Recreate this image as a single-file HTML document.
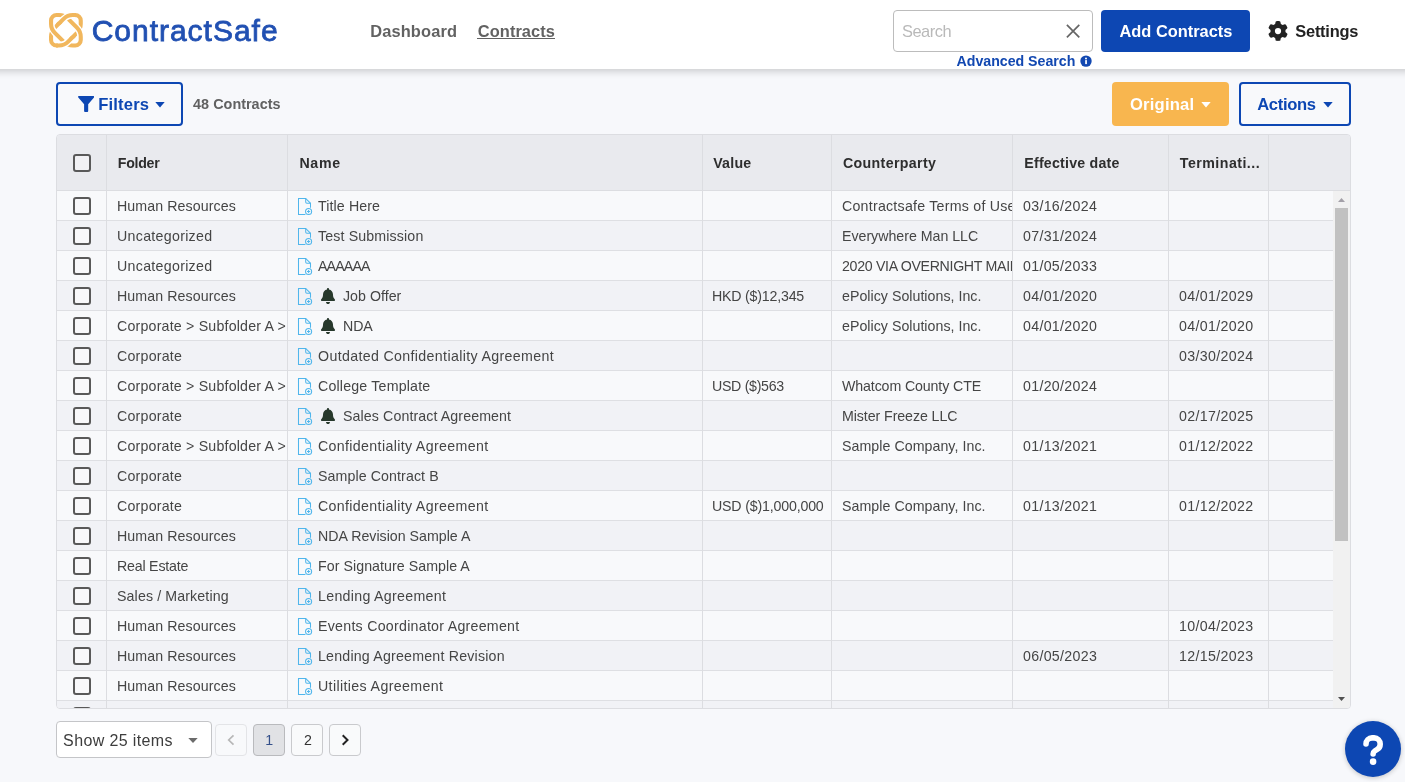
<!DOCTYPE html>
<html><head><meta charset="utf-8"><title>ContractSafe</title><style>
*{box-sizing:border-box;margin:0;padding:0}
html,body{width:1405px;height:782px;overflow:hidden;background:#f7f8fb}
#app{position:absolute;left:0;top:0;width:1405px;height:782px;overflow:hidden;background:#f7f8fb;font-family:"Liberation Sans", sans-serif;color:#333;will-change:transform}
.t{position:absolute;white-space:pre;line-height:60px;height:60px}
#hdr{position:absolute;left:0;top:0;width:1405px;height:69px;background:#fff}
#hsh{position:absolute;left:-30px;top:0;width:1465px;height:69px;box-shadow:0 2px 8px rgba(0,0,0,.2)}
.btn{position:absolute;border-radius:4px}
#grid{position:absolute;left:56px;top:134px;width:1295px;height:575px;border:1px solid #dcdde1;border-radius:4px;overflow:hidden;background:#f8f9fb}
#gh{position:absolute;left:0;top:0;width:1293px;height:56px;background:#e9eaee;border-bottom:1px solid #dcdde1}
.vl{position:absolute;top:0;width:1px;height:575px;background:#dcdde1}
.row{position:absolute;left:0;width:1277px;height:30px;border-bottom:1px solid #dedfe3;overflow:hidden}
.row.alt{background:#f1f2f6}
.c{position:absolute;top:0;height:29px;overflow:hidden}
.cb{position:absolute;left:16px;width:18px;height:18px;border:2px solid #595959;border-radius:3px;background:#f8f8fa}
.doc{position:absolute;left:240px;top:6px}
.bell{position:absolute;left:264px;top:7px}
.pg{position:absolute;top:724px;width:32px;height:32px;border:1px solid #c9cacd;border-radius:4px;background:#f9fafb}
</style></head><body><div id="app">
<div id="hsh"></div><div id="hdr">
<svg style="position:absolute;left:48.0px;top:12.3px" width="35.8" height="36.5" viewBox="-1 -1 35.8 36.5"><defs>
<clipPath id="ctb"><rect x="9" y="-1" width="16" height="10.7"/><rect x="9" y="24.7" width="16" height="11"/></clipPath>
<clipPath id="ctb2"><rect x="7" y="-1" width="20" height="12.7"/><rect x="7" y="22.7" width="20" height="13"/></clipPath>
<clipPath id="clr"><rect x="-1" y="8.7" width="11" height="17"/><rect x="24" y="8.7" width="11" height="17"/></clipPath></defs>
<g fill="none" stroke-width="4.1" stroke="#f1b75d">
<path d="M31.75 10.67A13 13 0 0 1 27.94 19.86L19.16 28.64A13 13 0 0 1 9.97 32.45L7.55 32.45A5.5 5.5 0 0 1 2.05 26.95L2.05 23.83A13 13 0 0 1 5.86 14.64L14.64 5.86A13 13 0 0 1 23.83 2.05L26.25 2.05A5.5 5.5 0 0 1 31.75 7.55Z"/>
<g clip-path="url(#clr)"><path d="M2.05 7.55A5.5 5.5 0 0 1 7.55 2.05L9.97 2.05A13 13 0 0 1 19.16 5.86L27.94 14.64A13 13 0 0 1 31.75 23.83L31.75 26.95A5.5 5.5 0 0 1 26.25 32.45L23.83 32.45A13 13 0 0 1 14.64 28.64L5.86 19.86A13 13 0 0 1 2.05 10.67Z" stroke="#fff" stroke-width="6.699999999999999"/></g>
<path d="M2.05 7.55A5.5 5.5 0 0 1 7.55 2.05L9.97 2.05A13 13 0 0 1 19.16 5.86L27.94 14.64A13 13 0 0 1 31.75 23.83L31.75 26.95A5.5 5.5 0 0 1 26.25 32.45L23.83 32.45A13 13 0 0 1 14.64 28.64L5.86 19.86A13 13 0 0 1 2.05 10.67Z"/>
<g clip-path="url(#ctb)"><path d="M31.75 10.67A13 13 0 0 1 27.94 19.86L19.16 28.64A13 13 0 0 1 9.97 32.45L7.55 32.45A5.5 5.5 0 0 1 2.05 26.95L2.05 23.83A13 13 0 0 1 5.86 14.64L14.64 5.86A13 13 0 0 1 23.83 2.05L26.25 2.05A5.5 5.5 0 0 1 31.75 7.55Z" stroke="#fff" stroke-width="6.699999999999999"/></g><g clip-path="url(#ctb2)"><path d="M31.75 10.67A13 13 0 0 1 27.94 19.86L19.16 28.64A13 13 0 0 1 9.97 32.45L7.55 32.45A5.5 5.5 0 0 1 2.05 26.95L2.05 23.83A13 13 0 0 1 5.86 14.64L14.64 5.86A13 13 0 0 1 23.83 2.05L26.25 2.05A5.5 5.5 0 0 1 31.75 7.55Z"/></g>
</g></svg>
<div class="t" style="left:91.70px;top:1.20px;font-size:30px;color:#2150b2;letter-spacing:0.982px;-webkit-text-stroke:0.8px #2150b2;">ContractSafe</div>
<div class="t" style="left:370.20px;top:0.80px;font-size:16.4px;font-weight:700;color:#626262;letter-spacing:0.149px;">Dashboard</div>
<div class="t" style="left:477.80px;top:0.80px;font-size:16.4px;font-weight:700;color:#626262;letter-spacing:0.075px;">Contracts</div>
<div style="position:absolute;left:477px;top:38px;width:78px;height:1px;background:#626262"></div>
<div class="btn" style="left:893px;top:10px;width:200px;height:42px;border:1px solid #bcbcbc;background:#fff"></div>
<div class="t" style="left:902.00px;top:0.60px;font-size:16.4px;color:#b9b9b9;letter-spacing:-0.48px;">Search</div>
<svg style="position:absolute;left:1065px;top:23px" width="16" height="16" viewBox="0 0 16 16"><path d="M1.9 1.9l12.4 12.4M14.300 1.900l-12.400 12.400" stroke="#666" stroke-width="1.7" fill="none"/></svg>
<div class="btn" style="left:1101px;top:10px;width:149px;height:42px;background:#0d47b3"></div>
<div class="t" style="left:1119.50px;top:1.10px;font-size:16.4px;font-weight:700;color:#fff;">Add Contracts</div>
<svg width="20" height="20" viewBox="0 0 512 512" style="position:absolute;left:1268px;top:21px"><path fill="#222" d="M495.900 166.600c3.200 8.700 .5 18.400-6.400 24.600l-43.300 39.400c1.100 8.300 1.700 16.800 1.700 25.400s-.6 17.100-1.700 25.400l43.300 39.400c6.900 6.200 9.600 15.900 6.400 24.600c-4.400 11.900-9.700 23.300-15.800 34.300l-4.700 8.100c-6.600 11-14 21.400-22.100 31.200c-5.900 7.200-15.700 9.600-24.500 6.800l-55.700-17.700c-13.400 10.300-28.200 18.900-44 25.400l-12.500 57.100c-2 9.100-9 16.300-18.200 17.800c-13.800 2.300-28 3.500-42.500 3.500s-28.700-1.200-42.500-3.500c-9.200-1.500-16.200-8.700-18.200-17.800l-12.500-57.100c-15.800-6.500-30.600-15.100-44-25.400L83.100 425.900c-8.800 2.800-18.600 .3-24.500-6.800c-8.100-9.800-15.500-20.200-22.100-31.200l-4.700-8.100c-6.100-11-11.400-22.400-15.800-34.300c-3.200-8.700-.5-18.400 6.400-24.600l43.300-39.400C64.600 273.100 64 264.600 64 256s.6-17.100 1.700-25.400L22.400 191.200c-6.900-6.200-9.600-15.900-6.400-24.600c4.400-11.900 9.700-23.300 15.800-34.300l4.700-8.100c6.600-11 14-21.400 22.100-31.200c5.900-7.200 15.700-9.600 24.500-6.800l55.700 17.700c13.400-10.300 28.200-18.900 44-25.400l12.500-57.100c2-9.100 9-16.300 18.200-17.800C227.300 1.200 241.500 0 256 0s28.700 1.200 42.500 3.500c9.200 1.500 16.200 8.700 18.200 17.800l12.500 57.100c15.800 6.500 30.600 15.100 44 25.400l55.700-17.700c8.800-2.800 18.600-.3 24.500 6.800c8.100 9.800 15.500 20.200 22.100 31.200l4.700 8.100c6.100 11 11.400 22.400 15.800 34.300zM256 336a80 80 0 1 0 0-160 80 80 0 1 0 0 160z"/></svg>
<div class="t" style="left:1295.30px;top:1.10px;font-size:16.4px;font-weight:700;color:#222;letter-spacing:-0.228px;">Settings</div>
<div class="t" style="left:956.50px;top:30.60px;font-size:14.2px;font-weight:700;color:#1248b1;letter-spacing:-0.014px;">Advanced Search</div>
<svg style="position:absolute;left:1080px;top:55px" width="12" height="12" viewBox="0 0 12 12"><circle cx="6" cy="6.100" r="5.700" fill="#1248b1"/><rect x="5.200" y="5.100" width="1.700" height="4" fill="#fff"/><circle cx="6" cy="3.400" r="1" fill="#fff"/></svg>
</div>
<div class="btn" style="left:56px;top:82px;width:127px;height:44px;border:2px solid #0d47b3;background:#f8f9fb"></div>
<svg style="position:absolute;left:77.800px;top:96px" width="16.300" height="16" viewBox="0 0 16.300 16"><path d="M0.900 0H15.400a.800 .800 0 0 1 .600 1.400L10.200 8.300V15.100a.900 .900 0 0 1-.900 .900H7a.900 .900 0 0 1-.900-.900V8.300L0.300 1.400A.800 .800 0 0 1 .900 0z" fill="#0d47b3"/></svg>
<div class="t" style="left:98.20px;top:74.80px;font-size:16.6px;font-weight:700;color:#0d47b3;letter-spacing:0.167px;">Filters</div>
<svg style="position:absolute;left:155px;top:102px" width="10" height="6" viewBox="0 0 10 6"><path d="M0.300 0h9.400L5 5.400z" fill="#0d47b3"/></svg>
<div class="t" style="left:193.10px;top:73.90px;font-size:14.4px;font-weight:700;color:#616161;letter-spacing:0.019px;">48 Contracts</div>
<div class="btn" style="left:1112px;top:82px;width:117px;height:44px;background:#f8b64f"></div>
<div class="t" style="left:1129.90px;top:74.80px;font-size:16.6px;font-weight:700;color:#fff;letter-spacing:0.229px;">Original</div>
<svg style="position:absolute;left:1201px;top:102px" width="10" height="6" viewBox="0 0 10 6"><path d="M0.300 0h9.400L5 5.400z" fill="#fff"/></svg>
<div class="btn" style="left:1239px;top:82px;width:112px;height:44px;border:2px solid #0d47b3;background:#f8f9fb"></div>
<div class="t" style="left:1257.20px;top:74.80px;font-size:16.6px;font-weight:700;color:#0d47b3;letter-spacing:-0.333px;">Actions</div>
<svg style="position:absolute;left:1322.500px;top:102px" width="10" height="6" viewBox="0 0 10 6"><path d="M0.300 0h9.400L5 5.400z" fill="#0d47b3"/></svg>
<div id="grid">
<div id="gh">
<div class="cb" style="top:19px;background:#f1f1f4"></div>
<div class="t" style="left:60.80px;top:-2.10px;font-size:14.2px;font-weight:700;color:#2e2e2e;letter-spacing:-0.28px;">Folder</div>
<div class="t" style="left:242.40px;top:-2.10px;font-size:14.2px;font-weight:700;color:#2e2e2e;letter-spacing:0.733px;">Name</div>
<div class="t" style="left:656.20px;top:-2.10px;font-size:14.2px;font-weight:700;color:#2e2e2e;letter-spacing:0.25px;">Value</div>
<div class="t" style="left:785.90px;top:-2.10px;font-size:14.2px;font-weight:700;color:#2e2e2e;letter-spacing:0.364px;">Counterparty</div>
<div class="t" style="left:967.30px;top:-2.10px;font-size:14.2px;font-weight:700;color:#2e2e2e;letter-spacing:0.215px;">Effective date</div>
<div class="t" style="left:1122.80px;top:-2.10px;font-size:14.2px;font-weight:700;color:#2e2e2e;letter-spacing:0.473px;">Terminati...</div>
</div>
<div class="row" style="top:56px">
<div class="cb" style="top:6px"></div>
<div class="c" style="left:50px;width:180px"><div class="t" style="left:10.00px;top:-15.10px;font-size:14.2px;color:#454545;letter-spacing:0.1px;">Human Resources</div></div>
<svg class="doc" width="16" height="19" viewBox="0 0 16 19"><g fill="none" stroke="#50b6ec" stroke-width="1.05"><path d="M8.4 17.5H1.5V1.5h7.200l4.800 4.800v4.400"/><path d="M8.700 1.500v3.600c0 .700 .500 1.200 1.200 1.200h3.600"/><circle cx="11.600" cy="14.500" r="3.050"/><path d="M11.600 12.900v3.200M10 14.500h3.200" stroke-width="1"/></g></svg>
<div class="c" style="left:255px;width:390px"><div class="t" style="left:6.00px;top:-15.10px;font-size:14.2px;color:#454545;letter-spacing:0.111px;">Title Here</div></div>
<div class="c" style="left:775px;width:180px"><div class="t" style="left:10.00px;top:-15.10px;font-size:14.2px;color:#454545;letter-spacing:0.242px;">Contractsafe Terms of Use</div></div>
<div class="c" style="left:956px;width:155px"><div class="t" style="left:10.00px;top:-15.10px;font-size:14.2px;color:#454545;letter-spacing:0.311px;">03/16/2024</div></div>
</div>
<div class="row alt" style="top:86px">
<div class="cb" style="top:6px"></div>
<div class="c" style="left:50px;width:180px"><div class="t" style="left:10.00px;top:-15.10px;font-size:14.2px;color:#454545;letter-spacing:0.3px;">Uncategorized</div></div>
<svg class="doc" width="16" height="19" viewBox="0 0 16 19"><g fill="none" stroke="#50b6ec" stroke-width="1.05"><path d="M8.4 17.5H1.5V1.5h7.200l4.800 4.800v4.400"/><path d="M8.700 1.500v3.600c0 .700 .500 1.200 1.200 1.200h3.600"/><circle cx="11.600" cy="14.500" r="3.050"/><path d="M11.600 12.900v3.200M10 14.500h3.200" stroke-width="1"/></g></svg>
<div class="c" style="left:255px;width:390px"><div class="t" style="left:6.00px;top:-15.10px;font-size:14.2px;color:#454545;letter-spacing:0.143px;">Test Submission</div></div>
<div class="c" style="left:775px;width:180px"><div class="t" style="left:10.00px;top:-15.10px;font-size:14.2px;color:#454545;letter-spacing:-0.012px;">Everywhere Man LLC</div></div>
<div class="c" style="left:956px;width:155px"><div class="t" style="left:10.00px;top:-15.10px;font-size:14.2px;color:#454545;letter-spacing:0.311px;">07/31/2024</div></div>
</div>
<div class="row" style="top:116px">
<div class="cb" style="top:6px"></div>
<div class="c" style="left:50px;width:180px"><div class="t" style="left:10.00px;top:-15.10px;font-size:14.2px;color:#454545;letter-spacing:0.3px;">Uncategorized</div></div>
<svg class="doc" width="16" height="19" viewBox="0 0 16 19"><g fill="none" stroke="#50b6ec" stroke-width="1.05"><path d="M8.4 17.5H1.5V1.5h7.200l4.800 4.800v4.400"/><path d="M8.700 1.500v3.600c0 .700 .500 1.200 1.200 1.200h3.600"/><circle cx="11.600" cy="14.500" r="3.050"/><path d="M11.600 12.900v3.200M10 14.500h3.200" stroke-width="1"/></g></svg>
<div class="c" style="left:255px;width:390px"><div class="t" style="left:6.00px;top:-15.10px;font-size:14.2px;color:#454545;letter-spacing:-0.84px;">AAAAAA</div></div>
<div class="c" style="left:775px;width:180px"><div class="t" style="left:10.00px;top:-15.10px;font-size:14.2px;color:#454545;letter-spacing:-0.318px;">2020 VIA OVERNIGHT MAIL</div></div>
<div class="c" style="left:956px;width:155px"><div class="t" style="left:10.00px;top:-15.10px;font-size:14.2px;color:#454545;letter-spacing:0.311px;">01/05/2033</div></div>
</div>
<div class="row alt" style="top:146px">
<div class="cb" style="top:6px"></div>
<div class="c" style="left:50px;width:180px"><div class="t" style="left:10.00px;top:-15.10px;font-size:14.2px;color:#454545;letter-spacing:0.1px;">Human Resources</div></div>
<svg class="doc" width="16" height="19" viewBox="0 0 16 19"><g fill="none" stroke="#50b6ec" stroke-width="1.05"><path d="M8.4 17.5H1.5V1.5h7.200l4.800 4.800v4.400"/><path d="M8.700 1.500v3.600c0 .700 .500 1.200 1.200 1.200h3.600"/><circle cx="11.600" cy="14.500" r="3.050"/><path d="M11.600 12.900v3.200M10 14.500h3.200" stroke-width="1"/></g></svg>
<svg class="bell" width="14" height="16" viewBox="0 0 448 512"><path fill="#27382c" d="M224 0c-17.700 0-32 14.300-32 32v19.200C119 66 64 130.600 64 208v18.800c0 47-17.300 92.400-48.500 127.600l-7.400 8.300c-8.400 9.400-10.400 22.900-5.300 34.400S19.400 416 32 416h384c12.600 0 24-7.400 29.200-18.900s3.100-25-5.300-34.400l-7.400-8.300C401.300 319.200 384 273.900 384 226.800V208c0-77.400-55-142-128-156.800V32c0-17.700-14.300-32-32-32zm45.300 493.300c12-12 18.700-28.300 18.700-45.300H160c0 17 6.700 33.300 18.700 45.300s28.300 18.700 45.300 18.700s33.300-6.700 45.300-18.700z"/></svg>
<div class="c" style="left:255px;width:390px"><div class="t" style="left:31.00px;top:-15.10px;font-size:14.2px;color:#454545;letter-spacing:0.026px;">Job Offer</div></div>
<div class="c" style="left:646px;width:128px"><div class="t" style="left:9.00px;top:-15.10px;font-size:14.2px;color:#454545;letter-spacing:-0.2px;">HKD ($)12,345</div></div>
<div class="c" style="left:775px;width:180px"><div class="t" style="left:10.00px;top:-15.10px;font-size:14.2px;color:#454545;letter-spacing:0.027px;">ePolicy Solutions, Inc.</div></div>
<div class="c" style="left:956px;width:155px"><div class="t" style="left:10.00px;top:-15.10px;font-size:14.2px;color:#454545;letter-spacing:0.311px;">04/01/2020</div></div>
<div class="c" style="left:1112px;width:99px"><div class="t" style="left:10.00px;top:-15.10px;font-size:14.2px;color:#454545;letter-spacing:0.356px;">04/01/2029</div></div>
</div>
<div class="row" style="top:176px">
<div class="cb" style="top:6px"></div>
<div class="c" style="left:50px;width:180px"><div class="t" style="left:10.00px;top:-15.10px;font-size:14.2px;color:#454545;letter-spacing:0.2px;">Corporate &gt; Subfolder A &gt;</div></div>
<svg class="doc" width="16" height="19" viewBox="0 0 16 19"><g fill="none" stroke="#50b6ec" stroke-width="1.05"><path d="M8.4 17.5H1.5V1.5h7.200l4.800 4.800v4.400"/><path d="M8.700 1.500v3.600c0 .700 .500 1.200 1.200 1.200h3.600"/><circle cx="11.600" cy="14.500" r="3.050"/><path d="M11.600 12.900v3.200M10 14.500h3.200" stroke-width="1"/></g></svg>
<svg class="bell" width="14" height="16" viewBox="0 0 448 512"><path fill="#27382c" d="M224 0c-17.700 0-32 14.300-32 32v19.200C119 66 64 130.600 64 208v18.800c0 47-17.300 92.400-48.500 127.600l-7.400 8.300c-8.400 9.400-10.400 22.900-5.300 34.400S19.400 416 32 416h384c12.600 0 24-7.400 29.200-18.900s3.100-25-5.300-34.400l-7.400-8.300C401.300 319.200 384 273.900 384 226.800V208c0-77.400-55-142-128-156.800V32c0-17.700-14.300-32-32-32zm45.300 493.300c12-12 18.700-28.300 18.700-45.300H160c0 17 6.700 33.300 18.700 45.300s28.300 18.700 45.300 18.700s33.300-6.700 45.300-18.700z"/></svg>
<div class="c" style="left:255px;width:390px"><div class="t" style="left:31.00px;top:-15.10px;font-size:14.2px;color:#454545;letter-spacing:-0.1px;">NDA</div></div>
<div class="c" style="left:775px;width:180px"><div class="t" style="left:10.00px;top:-15.10px;font-size:14.2px;color:#454545;letter-spacing:0.027px;">ePolicy Solutions, Inc.</div></div>
<div class="c" style="left:956px;width:155px"><div class="t" style="left:10.00px;top:-15.10px;font-size:14.2px;color:#454545;letter-spacing:0.311px;">04/01/2020</div></div>
<div class="c" style="left:1112px;width:99px"><div class="t" style="left:10.00px;top:-15.10px;font-size:14.2px;color:#454545;letter-spacing:0.356px;">04/01/2020</div></div>
</div>
<div class="row alt" style="top:206px">
<div class="cb" style="top:6px"></div>
<div class="c" style="left:50px;width:180px"><div class="t" style="left:10.00px;top:-15.10px;font-size:14.2px;color:#454545;letter-spacing:0.226px;">Corporate</div></div>
<svg class="doc" width="16" height="19" viewBox="0 0 16 19"><g fill="none" stroke="#50b6ec" stroke-width="1.05"><path d="M8.4 17.5H1.5V1.5h7.200l4.800 4.800v4.400"/><path d="M8.700 1.500v3.600c0 .700 .500 1.200 1.200 1.200h3.600"/><circle cx="11.600" cy="14.500" r="3.050"/><path d="M11.600 12.900v3.200M10 14.500h3.200" stroke-width="1"/></g></svg>
<div class="c" style="left:255px;width:390px"><div class="t" style="left:6.00px;top:-15.10px;font-size:14.2px;color:#454545;letter-spacing:0.352px;">Outdated Confidentiality Agreement</div></div>
<div class="c" style="left:1112px;width:99px"><div class="t" style="left:10.00px;top:-15.10px;font-size:14.2px;color:#454545;letter-spacing:0.356px;">03/30/2024</div></div>
</div>
<div class="row" style="top:236px">
<div class="cb" style="top:6px"></div>
<div class="c" style="left:50px;width:180px"><div class="t" style="left:10.00px;top:-15.10px;font-size:14.2px;color:#454545;letter-spacing:0.2px;">Corporate &gt; Subfolder A &gt;</div></div>
<svg class="doc" width="16" height="19" viewBox="0 0 16 19"><g fill="none" stroke="#50b6ec" stroke-width="1.05"><path d="M8.4 17.5H1.5V1.5h7.200l4.800 4.800v4.400"/><path d="M8.700 1.500v3.600c0 .700 .500 1.200 1.200 1.200h3.600"/><circle cx="11.600" cy="14.500" r="3.050"/><path d="M11.600 12.900v3.200M10 14.500h3.200" stroke-width="1"/></g></svg>
<div class="c" style="left:255px;width:390px"><div class="t" style="left:6.00px;top:-15.10px;font-size:14.2px;color:#454545;letter-spacing:0.186px;">College Template</div></div>
<div class="c" style="left:646px;width:128px"><div class="t" style="left:9.00px;top:-15.10px;font-size:14.2px;color:#454545;letter-spacing:-0.311px;">USD ($)563</div></div>
<div class="c" style="left:775px;width:180px"><div class="t" style="left:10.00px;top:-15.10px;font-size:14.2px;color:#454545;letter-spacing:-0.117px;">Whatcom County CTE</div></div>
<div class="c" style="left:956px;width:155px"><div class="t" style="left:10.00px;top:-15.10px;font-size:14.2px;color:#454545;letter-spacing:0.311px;">01/20/2024</div></div>
</div>
<div class="row alt" style="top:266px">
<div class="cb" style="top:6px"></div>
<div class="c" style="left:50px;width:180px"><div class="t" style="left:10.00px;top:-15.10px;font-size:14.2px;color:#454545;letter-spacing:0.226px;">Corporate</div></div>
<svg class="doc" width="16" height="19" viewBox="0 0 16 19"><g fill="none" stroke="#50b6ec" stroke-width="1.05"><path d="M8.4 17.5H1.5V1.5h7.200l4.800 4.800v4.400"/><path d="M8.700 1.500v3.600c0 .700 .500 1.200 1.200 1.200h3.600"/><circle cx="11.600" cy="14.500" r="3.050"/><path d="M11.600 12.900v3.200M10 14.500h3.200" stroke-width="1"/></g></svg>
<svg class="bell" width="14" height="16" viewBox="0 0 448 512"><path fill="#27382c" d="M224 0c-17.700 0-32 14.300-32 32v19.200C119 66 64 130.600 64 208v18.800c0 47-17.300 92.400-48.500 127.600l-7.400 8.300c-8.400 9.400-10.400 22.900-5.300 34.400S19.400 416 32 416h384c12.600 0 24-7.400 29.200-18.900s3.100-25-5.300-34.400l-7.400-8.300C401.300 319.200 384 273.900 384 226.800V208c0-77.400-55-142-128-156.800V32c0-17.700-14.300-32-32-32zm45.300 493.300c12-12 18.700-28.300 18.700-45.300H160c0 17 6.700 33.300 18.700 45.300s28.300 18.700 45.300 18.700s33.300-6.700 45.300-18.700z"/></svg>
<div class="c" style="left:255px;width:390px"><div class="t" style="left:31.00px;top:-15.10px;font-size:14.2px;color:#454545;letter-spacing:0.104px;">Sales Contract Agreement</div></div>
<div class="c" style="left:775px;width:180px"><div class="t" style="left:10.00px;top:-15.10px;font-size:14.2px;color:#454545;letter-spacing:-0.075px;">Mister Freeze LLC</div></div>
<div class="c" style="left:1112px;width:99px"><div class="t" style="left:10.00px;top:-15.10px;font-size:14.2px;color:#454545;letter-spacing:0.356px;">02/17/2025</div></div>
</div>
<div class="row" style="top:296px">
<div class="cb" style="top:6px"></div>
<div class="c" style="left:50px;width:180px"><div class="t" style="left:10.00px;top:-15.10px;font-size:14.2px;color:#454545;letter-spacing:0.2px;">Corporate &gt; Subfolder A &gt;</div></div>
<svg class="doc" width="16" height="19" viewBox="0 0 16 19"><g fill="none" stroke="#50b6ec" stroke-width="1.05"><path d="M8.4 17.5H1.5V1.5h7.200l4.800 4.800v4.400"/><path d="M8.700 1.500v3.600c0 .700 .500 1.200 1.200 1.200h3.600"/><circle cx="11.600" cy="14.500" r="3.050"/><path d="M11.600 12.900v3.200M10 14.500h3.200" stroke-width="1"/></g></svg>
<div class="c" style="left:255px;width:390px"><div class="t" style="left:6.00px;top:-15.10px;font-size:14.2px;color:#454545;letter-spacing:0.35px;">Confidentiality Agreement</div></div>
<div class="c" style="left:775px;width:180px"><div class="t" style="left:10.00px;top:-15.10px;font-size:14.2px;color:#454545;letter-spacing:0.053px;">Sample Company, Inc.</div></div>
<div class="c" style="left:956px;width:155px"><div class="t" style="left:10.00px;top:-15.10px;font-size:14.2px;color:#454545;letter-spacing:0.311px;">01/13/2021</div></div>
<div class="c" style="left:1112px;width:99px"><div class="t" style="left:10.00px;top:-15.10px;font-size:14.2px;color:#454545;letter-spacing:0.356px;">01/12/2022</div></div>
</div>
<div class="row alt" style="top:326px">
<div class="cb" style="top:6px"></div>
<div class="c" style="left:50px;width:180px"><div class="t" style="left:10.00px;top:-15.10px;font-size:14.2px;color:#454545;letter-spacing:0.226px;">Corporate</div></div>
<svg class="doc" width="16" height="19" viewBox="0 0 16 19"><g fill="none" stroke="#50b6ec" stroke-width="1.05"><path d="M8.4 17.5H1.5V1.5h7.200l4.800 4.800v4.400"/><path d="M8.700 1.500v3.600c0 .700 .500 1.200 1.200 1.200h3.600"/><circle cx="11.600" cy="14.500" r="3.050"/><path d="M11.600 12.900v3.200M10 14.500h3.200" stroke-width="1"/></g></svg>
<div class="c" style="left:255px;width:390px"><div class="t" style="left:6.00px;top:-15.10px;font-size:14.2px;color:#454545;letter-spacing:0.1px;">Sample Contract B</div></div>
</div>
<div class="row" style="top:356px">
<div class="cb" style="top:6px"></div>
<div class="c" style="left:50px;width:180px"><div class="t" style="left:10.00px;top:-15.10px;font-size:14.2px;color:#454545;letter-spacing:0.226px;">Corporate</div></div>
<svg class="doc" width="16" height="19" viewBox="0 0 16 19"><g fill="none" stroke="#50b6ec" stroke-width="1.05"><path d="M8.4 17.5H1.5V1.5h7.200l4.800 4.800v4.400"/><path d="M8.700 1.500v3.600c0 .700 .500 1.200 1.200 1.200h3.600"/><circle cx="11.600" cy="14.500" r="3.050"/><path d="M11.600 12.900v3.200M10 14.500h3.200" stroke-width="1"/></g></svg>
<div class="c" style="left:255px;width:390px"><div class="t" style="left:6.00px;top:-15.10px;font-size:14.2px;color:#454545;letter-spacing:0.35px;">Confidentiality Agreement</div></div>
<div class="c" style="left:646px;width:128px"><div class="t" style="left:9.00px;top:-15.10px;font-size:14.2px;color:#454545;letter-spacing:-0.174px;">USD ($)1,000,000</div></div>
<div class="c" style="left:775px;width:180px"><div class="t" style="left:10.00px;top:-15.10px;font-size:14.2px;color:#454545;letter-spacing:0.053px;">Sample Company, Inc.</div></div>
<div class="c" style="left:956px;width:155px"><div class="t" style="left:10.00px;top:-15.10px;font-size:14.2px;color:#454545;letter-spacing:0.311px;">01/13/2021</div></div>
<div class="c" style="left:1112px;width:99px"><div class="t" style="left:10.00px;top:-15.10px;font-size:14.2px;color:#454545;letter-spacing:0.356px;">01/12/2022</div></div>
</div>
<div class="row alt" style="top:386px">
<div class="cb" style="top:6px"></div>
<div class="c" style="left:50px;width:180px"><div class="t" style="left:10.00px;top:-15.10px;font-size:14.2px;color:#454545;letter-spacing:0.1px;">Human Resources</div></div>
<svg class="doc" width="16" height="19" viewBox="0 0 16 19"><g fill="none" stroke="#50b6ec" stroke-width="1.05"><path d="M8.4 17.5H1.5V1.5h7.200l4.800 4.800v4.400"/><path d="M8.700 1.500v3.600c0 .700 .500 1.200 1.200 1.200h3.600"/><circle cx="11.600" cy="14.500" r="3.050"/><path d="M11.600 12.900v3.200M10 14.500h3.200" stroke-width="1"/></g></svg>
<div class="c" style="left:255px;width:390px"><div class="t" style="left:6.00px;top:-15.10px;font-size:14.2px;color:#454545;letter-spacing:0.01px;">NDA Revision Sample A</div></div>
</div>
<div class="row" style="top:416px">
<div class="cb" style="top:6px"></div>
<div class="c" style="left:50px;width:180px"><div class="t" style="left:10.00px;top:-15.10px;font-size:14.2px;color:#454545;letter-spacing:-0.2px;">Real Estate</div></div>
<svg class="doc" width="16" height="19" viewBox="0 0 16 19"><g fill="none" stroke="#50b6ec" stroke-width="1.05"><path d="M8.4 17.5H1.5V1.5h7.200l4.800 4.800v4.400"/><path d="M8.700 1.500v3.600c0 .700 .500 1.200 1.200 1.200h3.600"/><circle cx="11.600" cy="14.500" r="3.050"/><path d="M11.600 12.900v3.200M10 14.500h3.200" stroke-width="1"/></g></svg>
<div class="c" style="left:255px;width:390px"><div class="t" style="left:6.00px;top:-15.10px;font-size:14.2px;color:#454545;letter-spacing:0.057px;">For Signature Sample A</div></div>
</div>
<div class="row alt" style="top:446px">
<div class="cb" style="top:6px"></div>
<div class="c" style="left:50px;width:180px"><div class="t" style="left:10.00px;top:-15.10px;font-size:14.2px;color:#454545;letter-spacing:0.125px;">Sales / Marketing</div></div>
<svg class="doc" width="16" height="19" viewBox="0 0 16 19"><g fill="none" stroke="#50b6ec" stroke-width="1.05"><path d="M8.4 17.5H1.5V1.5h7.200l4.800 4.800v4.400"/><path d="M8.700 1.500v3.600c0 .700 .500 1.200 1.200 1.200h3.600"/><circle cx="11.600" cy="14.500" r="3.050"/><path d="M11.600 12.900v3.200M10 14.500h3.200" stroke-width="1"/></g></svg>
<div class="c" style="left:255px;width:390px"><div class="t" style="left:6.00px;top:-15.10px;font-size:14.2px;color:#454545;letter-spacing:0.3px;">Lending Agreement</div></div>
</div>
<div class="row" style="top:476px">
<div class="cb" style="top:6px"></div>
<div class="c" style="left:50px;width:180px"><div class="t" style="left:10.00px;top:-15.10px;font-size:14.2px;color:#454545;letter-spacing:0.1px;">Human Resources</div></div>
<svg class="doc" width="16" height="19" viewBox="0 0 16 19"><g fill="none" stroke="#50b6ec" stroke-width="1.05"><path d="M8.4 17.5H1.5V1.5h7.200l4.800 4.800v4.400"/><path d="M8.700 1.500v3.600c0 .700 .500 1.200 1.200 1.200h3.600"/><circle cx="11.600" cy="14.500" r="3.050"/><path d="M11.600 12.900v3.200M10 14.500h3.200" stroke-width="1"/></g></svg>
<div class="c" style="left:255px;width:390px"><div class="t" style="left:6.00px;top:-15.10px;font-size:14.2px;color:#454545;letter-spacing:0.266px;">Events Coordinator Agreement</div></div>
<div class="c" style="left:1112px;width:99px"><div class="t" style="left:10.00px;top:-15.10px;font-size:14.2px;color:#454545;letter-spacing:0.356px;">10/04/2023</div></div>
</div>
<div class="row alt" style="top:506px">
<div class="cb" style="top:6px"></div>
<div class="c" style="left:50px;width:180px"><div class="t" style="left:10.00px;top:-15.10px;font-size:14.2px;color:#454545;letter-spacing:0.1px;">Human Resources</div></div>
<svg class="doc" width="16" height="19" viewBox="0 0 16 19"><g fill="none" stroke="#50b6ec" stroke-width="1.05"><path d="M8.4 17.5H1.5V1.5h7.200l4.800 4.800v4.400"/><path d="M8.700 1.500v3.600c0 .700 .500 1.200 1.200 1.200h3.600"/><circle cx="11.600" cy="14.500" r="3.050"/><path d="M11.600 12.900v3.200M10 14.500h3.200" stroke-width="1"/></g></svg>
<div class="c" style="left:255px;width:390px"><div class="t" style="left:6.00px;top:-15.10px;font-size:14.2px;color:#454545;letter-spacing:0.208px;">Lending Agreement Revision</div></div>
<div class="c" style="left:956px;width:155px"><div class="t" style="left:10.00px;top:-15.10px;font-size:14.2px;color:#454545;letter-spacing:0.311px;">06/05/2023</div></div>
<div class="c" style="left:1112px;width:99px"><div class="t" style="left:10.00px;top:-15.10px;font-size:14.2px;color:#454545;letter-spacing:0.356px;">12/15/2023</div></div>
</div>
<div class="row" style="top:536px">
<div class="cb" style="top:6px"></div>
<div class="c" style="left:50px;width:180px"><div class="t" style="left:10.00px;top:-15.10px;font-size:14.2px;color:#454545;letter-spacing:0.1px;">Human Resources</div></div>
<svg class="doc" width="16" height="19" viewBox="0 0 16 19"><g fill="none" stroke="#50b6ec" stroke-width="1.05"><path d="M8.4 17.5H1.5V1.5h7.200l4.800 4.800v4.400"/><path d="M8.700 1.500v3.600c0 .700 .500 1.200 1.200 1.200h3.600"/><circle cx="11.600" cy="14.500" r="3.050"/><path d="M11.600 12.900v3.200M10 14.500h3.200" stroke-width="1"/></g></svg>
<div class="c" style="left:255px;width:390px"><div class="t" style="left:6.00px;top:-15.10px;font-size:14.2px;color:#454545;letter-spacing:0.367px;">Utilities Agreement</div></div>
</div>
<div class="row alt" style="top:566px">
<div class="cb" style="top:6px"></div>
</div>
<div class="vl" style="left:49px"></div>
<div class="vl" style="left:230px"></div>
<div class="vl" style="left:645px"></div>
<div class="vl" style="left:774px"></div>
<div class="vl" style="left:955px"></div>
<div class="vl" style="left:1111px"></div>
<div class="vl" style="left:1211px"></div>
<div style="position:absolute;left:1276px;top:56px;width:17px;height:520px;background:#f1f1f1"></div>
<div style="position:absolute;left:1278px;top:73px;width:13px;height:333px;background:#c1c1c1"></div>
<svg style="position:absolute;left:1281px;top:63px" width="7" height="4" viewBox="0 0 7 4"><path d="M0 4L3.500 0L7 4z" fill="#a3a0a8"/></svg>
<svg style="position:absolute;left:1281px;top:562px" width="7" height="4" viewBox="0 0 7 4"><path d="M0 0L3.500 4L7 0z" fill="#505050"/></svg>
</div>
<div class="btn" style="left:56px;top:721px;width:156px;height:37px;border:1px solid #c4c5c8;background:#fff"></div>
<div class="t" style="left:63.10px;top:710.80px;font-size:16px;color:#3d3d3d;letter-spacing:0.367px;">Show 25 items</div>
<svg style="position:absolute;left:188px;top:738px" width="10" height="5" viewBox="0 0 10 5"><path d="M0.300 0h9.400L5 5z" fill="#6b6b6b"/></svg>
<div class="pg" style="left:215px;border-color:#e3e4e7;background:#f8f9fb"></div>
<svg style="position:absolute;left:226px;top:734px" width="10" height="12" viewBox="0 0 10 12"><path d="M7.500 1.300L2.700 6l4.800 4.700" fill="none" stroke="#b7b7b7" stroke-width="1.700"/></svg>
<div class="pg" style="left:253px;background:#e1e2e5;border-color:#b9babd"></div>
<div class="t" style="left:265.30px;top:709.70px;font-size:14.2px;color:#34508a;letter-spacing:-2.6px;">1</div>
<div class="pg" style="left:291px"></div>
<div class="t" style="left:303.90px;top:709.70px;font-size:14.2px;color:#333;letter-spacing:-2.2px;">2</div>
<div class="pg" style="left:329px"></div>
<svg style="position:absolute;left:340px;top:734px" width="10" height="12" viewBox="0 0 10 12"><path d="M2.700 1.300L7.500 6l-4.800 4.700" fill="none" stroke="#222" stroke-width="2"/></svg>
<div style="position:absolute;left:1345px;top:721px;width:56px;height:56px;border-radius:50%;background:#0d47b3;box-shadow:0 1px 5px rgba(0,0,0,.22)"></div>
<svg style="position:absolute;left:1363px;top:734.700px" width="20.200" height="30" viewBox="3 19 314 474"><path fill="#fff" stroke="#fff" stroke-width="24" stroke-linejoin="round" d="M80 160c0-35.300 28.700-64 64-64h32c35.300 0 64 28.700 64 64v3.600c0 21.800-11.100 42.100-29.400 53.800l-42.200 27.100c-25.200 16.200-40.400 44.100-40.400 74V320c0 17.700 14.300 32 32 32s32-14.300 32-32v-1.400c0-8.200 4.200-15.800 11-20.200l42.200-27.100c36.600-23.600 58.800-64.100 58.800-107.700V160c0-70.700-57.300-128-128-128H144C73.300 32 16 89.300 16 160c0 17.700 14.300 32 32 32s32-14.300 32-32zm80 320a40 40 0 1 0 0-80 40 40 0 1 0 0 80z"/></svg>
</div></body></html>
